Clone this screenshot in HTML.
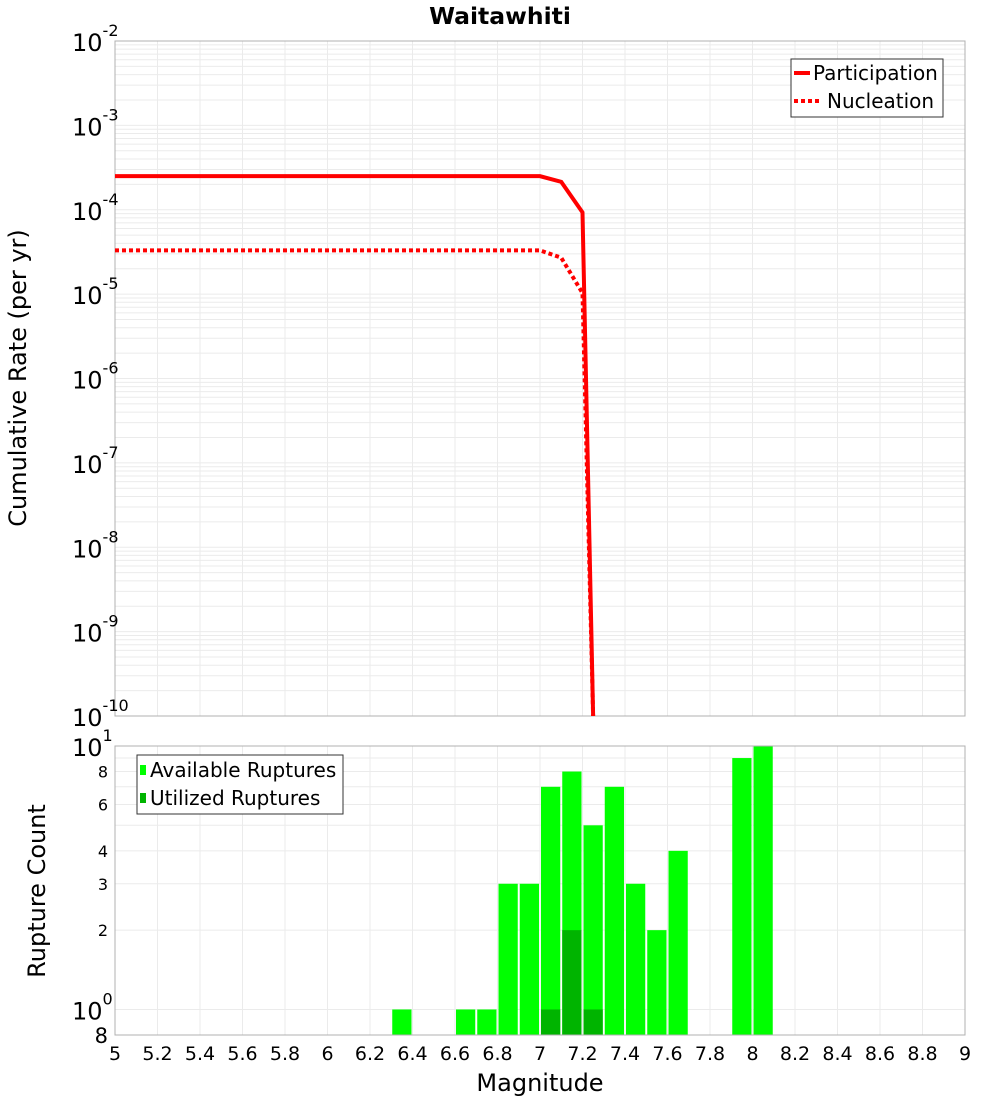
<!DOCTYPE html>
<html><head><meta charset="utf-8"><style>
body{margin:0;background:#fff}
svg{display:block;font-family:"DejaVu Sans","Liberation Sans",sans-serif}
</style></head><body>
<svg id="c" width="1000" height="1100" viewBox="0 0 1000 1100" xmlns="http://www.w3.org/2000/svg">
<text x="500" y="24" text-anchor="middle" font-size="23.5" font-weight="bold">Waitawhiti</text>
<g id="topg"></g><g id="botg"></g>
<text transform="translate(26,378) rotate(-90)" text-anchor="middle" font-size="24">Cumulative Rate (per yr)</text>
<text transform="translate(45,891) rotate(-90)" text-anchor="middle" font-size="24">Rupture Count</text>
<text x="540" y="1091" text-anchor="middle" font-size="24">Magnitude</text>
</svg>
<script>
const partMags=[5.0,5.5,6.0,6.5,7.0,7.1,7.2,7.25];
const partRates=[2.5e-4,2.5e-4,2.5e-4,2.5e-4,2.5e-4,2.14e-4,9.3e-5,1e-10];
const nuclMags=[5.0,5.5,6.0,6.5,7.0,7.1,7.2,7.25];
const nuclRates=[3.3e-5,3.3e-5,3.3e-5,3.3e-5,3.3e-5,2.7e-5,1.03e-5,1e-10];
const binMags=[6.35,6.65,6.75,6.85,6.95,7.05,7.15,7.25,7.35,7.45,7.55,7.65,7.95,8.05];
const availCounts=[1,1,1,3,3,7,8,5,7,3,2,4,9,10];
const utilMags=[7.05,7.15,7.25];
const utilCounts=[1,2,1];
const xTicks=[5,5.2,5.4,5.6,5.8,6,6.2,6.4,6.6,6.8,7,7.2,7.4,7.6,7.8,8,8.2,8.4,8.6,8.8,9];
const topExps=[-2,-3,-4,-5,-6,-7,-8,-9,-10];
const botTicks=[8,6,4,3,2];

(function(){
const NS="http://www.w3.org/2000/svg";
const L=115,R=965,T1=41,B1=716,T2=746,B2=1035;
const xs=m=>L+(m-5)/4*(R-L);
const y1=v=>T1+(-2-Math.log10(v))/8*(B1-T1);
const lo=Math.log10(0.8);
const y2=v=>T2+(1-Math.log10(v))/(1-lo)*(B2-T2);
function mk(p,tag,a){const e=document.createElementNS(NS,tag);for(const k in a)e.setAttribute(k,a[k]);p.appendChild(e);return e;}
const tg=document.getElementById('topg'),bg=document.getElementById('botg');

for(let e=-10;e<-2;e++){for(let k=1;k<10;k++){const y=y1(k*Math.pow(10,e));const g=mk(tg,'line',{x1:L,x2:R,y1:y,y2:y,stroke:'#ebebeb','stroke-width':1});

}}
xTicks.forEach(t=>{const x=xs(t);const g=mk(tg,'line',{x1:x,x2:x,y1:T1,y2:B1,stroke:'#ebebeb'});


const h=mk(bg,'line',{x1:x,x2:x,y1:T2,y2:B2,stroke:'#ebebeb'});

});
[1,2,3,4,5,6,7,8,9,10].forEach(v=>{const y=y2(v);const g=mk(bg,'line',{x1:L,x2:R,y1:y,y2:y,stroke:'#ebebeb'});

});

const f1=mk(tg,'rect',{x:L,y:T1,width:R-L,height:B1-T1,fill:'none',stroke:'#b0b0b0'});


topExps.forEach(e=>{const y=y1(Math.pow(10,e));const t=mk(tg,'text',{x:72,y:y+10,'font-size':24});


t.textContent='10';const s=mk(t,'tspan',{dy:-15,'font-size':16});s.textContent=String(e);});

function pts(ms,rs){return ms.map((m,i)=>xs(m)+','+y1(Math.max(rs[i],1e-10))).join(' ');}
const pl=mk(tg,'polyline',{points:pts(partMags,partRates),fill:'none',stroke:'#ff0000','stroke-width':4});


const nl=mk(tg,'polyline',{points:pts(nuclMags,nuclRates),fill:'none',stroke:'#ff0000','stroke-width':4,'stroke-dasharray':'4,3'});



const lg=mk(tg,'g',{});


mk(lg,'rect',{x:791,y:59,width:152,height:58,fill:'#fff',stroke:'#333'});
mk(lg,'line',{x1:794,x2:810,y1:73,y2:73,stroke:'#f00','stroke-width':4});
mk(lg,'line',{x1:794,x2:822,y1:101,y2:101,stroke:'#f00','stroke-width':4,'stroke-dasharray':'4,3'});
const lt1=mk(lg,'text',{x:813,y:80,'font-size':20});lt1.textContent='Participation';


const lt2=mk(lg,'text',{x:827,y:108,'font-size':20});lt2.textContent='Nucleation';



const bw=(xs(5.1)-xs(5))-2;
binMags.forEach((m,i)=>{const x=xs(m)-bw/2;const y=y2(availCounts[i]);const r=mk(bg,'rect',{x:x,y:y,width:bw,height:B2-y,fill:'#00ff00'});

});
utilMags.forEach((m,i)=>{const x=xs(m)-bw/2;const y=y2(utilCounts[i]);const r=mk(bg,'rect',{x:x,y:y,width:bw,height:B2-y,fill:'#00b400'});

});
const f2=mk(bg,'rect',{x:L,y:T2,width:R-L,height:B2-T2,fill:'none',stroke:'#b0b0b0'});


botTicks.forEach(v=>{const t=mk(bg,'text',{x:108,y:y2(v)+6,'text-anchor':'end','font-size':16});t.textContent=String(v);

});
[[10,'1'],[1,'0']].forEach(([v,e])=>{const t=mk(bg,'text',{x:72,y:y2(v)+10,'font-size':24});t.textContent='10';


const s=mk(t,'tspan',{dy:-15,'font-size':16});s.textContent=e;});
const t8=mk(bg,'text',{x:108,y:1043,'text-anchor':'end','font-size':21});t8.textContent='8';


xTicks.forEach(t=>{const e=mk(bg,'text',{x:xs(t),y:1060,'text-anchor':'middle','font-size':19});e.textContent=String(t);

});
const lg2=mk(bg,'g',{});


mk(lg2,'rect',{x:137,y:755,width:206,height:59,fill:'#fff',stroke:'#333'});
mk(lg2,'rect',{x:140,y:765,width:6,height:10,fill:'#00ff00'});
mk(lg2,'rect',{x:140,y:793,width:6,height:10,fill:'#00b400'});
const b1=mk(lg2,'text',{x:150,y:777,'font-size':20});b1.textContent='Available Ruptures';


const b2=mk(lg2,'text',{x:150,y:805,'font-size':20});b2.textContent='Utilized Ruptures';


})();
</script>
</body></html>
